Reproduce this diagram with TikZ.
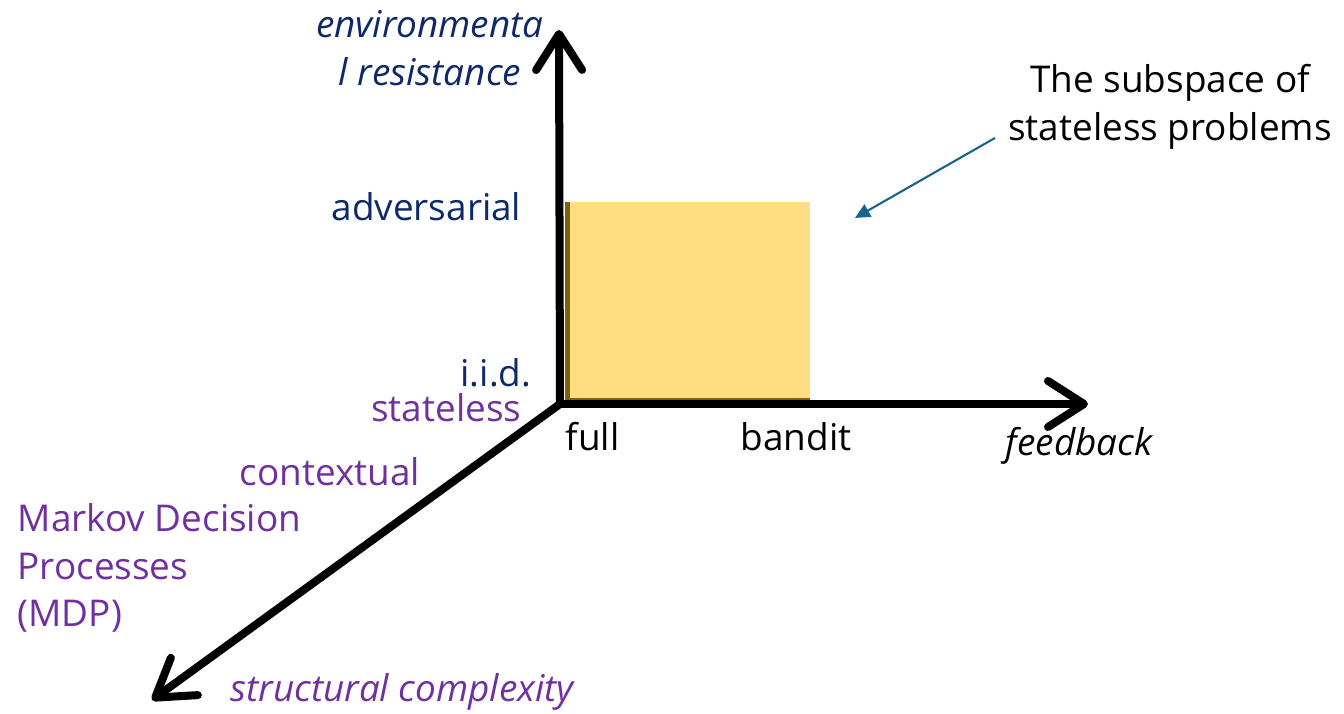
\documentclass[tikz,border=0pt]{standalone}
\usepackage{fontspec}
\setmainfont{Open Sans}
\usetikzlibrary{arrows.meta,positioning}

\definecolor{axisnavy}{RGB}{14,40,104}
\definecolor{axispurple}{RGB}{112,48,160}
\definecolor{boxyellow}{RGB}{255,222,128}
\definecolor{boxbrown}{RGB}{128,96,10}
\definecolor{notecolor}{RGB}{26,100,140}

\begin{document}
\begin{tikzpicture}[
		axis/.style={
			draw,
			line width=0.08cm,
			-{Straight Barb[round, length=0.36cm, width=0.46cm]}
		},
		lbl/.style={
			inner sep=0pt,
			font=\fontsize{10.5}{13.5}\selectfont
		},
		navy/.style={lbl, text=axisnavy},
		purple/.style={lbl, text=axispurple},
		note/.style={draw=notecolor, line width=0.6pt, -{Triangle[length=0.15cm, width=0.14cm]}}
		]
		\useasboundingbox (0,0) rectangle (13.44,7.14);
		
		% Subspace square
		\fill[boxbrown] (5.65,3.12) rectangle (8.10,5.12);
		\fill[boxyellow] (5.70,3.16) rectangle (8.10,5.12);
		
		% Axes
		\coordinate (origin) at (5.60,3.10);
		\coordinate (envend) at (5.59,6.84);
		\coordinate (fbend) at (10.88,3.10);
		\coordinate (strend) at (1.52,0.14);
		\draw[axis] (origin) -- (envend);
		\draw[axis] (origin) -- (fbend);
		\draw[axis] (origin) -- (strend);
		
		% Axis titles
		\node[navy, align=center, font=\fontsize{10.5}{13.5}\selectfont\itshape] (envtitle) at (4.30,6.66) {environmenta\\l resistance};
		\node[lbl, font=\fontsize{10.5}{13.5}\selectfont\itshape] (fbtitle) at (10.79,2.68) {feedback};
		\node[purple, font=\fontsize{10.5}{13.5}\selectfont\itshape] (strtitle) at (4.02,0.22) {structural complexity};
		
		% Environment levels
		\node[navy, anchor=east] (adv) at (5.22,5.07) {adversarial};
		\node[navy, anchor=east] (iid) at (5.32,3.41) {i.i.d.};
		
		% Feedback levels
		\node[lbl, anchor=west] (full) at (5.65,2.77) {full};
		\node[lbl] (bandit) at (7.96,2.77) {bandit};
		
		% Structure levels
		\node[purple, anchor=east] (stateless) at (5.22,3.06) {stateless};
		\node[purple, anchor=east] (ctx) at (4.21,2.42) {contextual};
		\node[purple, anchor=west, align=left] (mdp) at (0.17,1.46) {Markov Decision\\Processes\\(MDP)};
		
		% Annotation
		\node[lbl, align=center] (subspace) at (11.70,6.07) {The subspace of\\stateless problems};
		\coordinate (notetail) at (9.95,5.76);
		\coordinate (notehead) at (8.55,4.96);
		\draw[note] (notetail) -- (notehead);
		
	\end{tikzpicture}
\end{document}
